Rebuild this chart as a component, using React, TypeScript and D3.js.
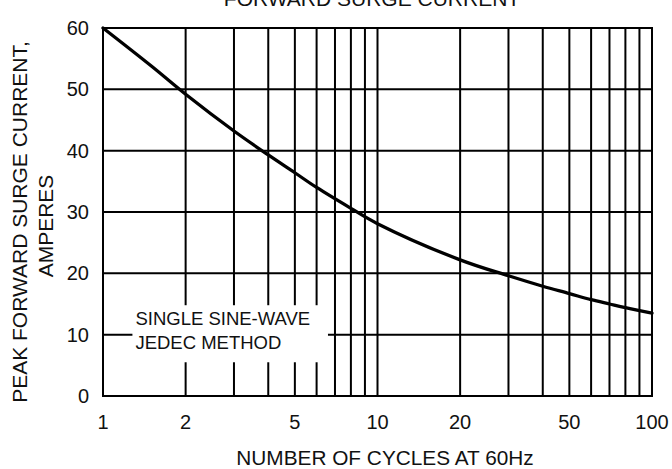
import React from 'react';
import * as d3 from 'd3';

// curve
const cycles = [1, 1.5, 2, 3, 4, 5, 6, 8, 10, 20, 30, 40, 50, 60, 70, 80, 100];
const current = [60, 53.8, 49.2, 43.2, 39.3, 36.4, 34.0, 30.6, 28.1, 22.2, 19.6, 17.9, 16.7, 15.7, 15.0, 14.4, 13.5];

const xGrid = [2, 3, 4, 5, 6, 7, 8, 9, 10, 20, 30, 40, 50, 60, 70, 80, 90];
const yGrid = [10, 20, 30, 40, 50];
const xTickLabels = [1, 2, 5, 10, 20, 50, 100];
const yTickLabels = [0, 10, 20, 30, 40, 50, 60];
const noteLines = ['SINGLE SINE-WAVE', 'JEDEC METHOD'];

const W = 672;
const H = 469;
const FONT = '"Liberation Sans", Arial, Helvetica, sans-serif';

const App = () => {
  const x = d3.scaleLog().domain([1, 100]).range([103, 652]);
  const y = d3.scaleLinear().domain([0, 60]).range([396, 28]);

  const line = d3
    .line<number>()
    .x((d, i) => x(cycles[i]))
    .y(d => y(d))
    .curve(d3.curveCatmullRom.alpha(0.5));

  // white patch behind the note, it cuts the grid lines
  const boxX0 = x(1.28);
  const boxX1 = x(6.6);
  const boxY0 = y(14.8);
  const boxY1 = y(5.5);

  return (
    <svg
      width={W}
      height={H}
      style={{ position: 'absolute', left: 0, top: 0, background: '#fff' }}
      fontFamily={FONT}
    >
      {/* grid */}
      <g stroke="#000" strokeWidth={2}>
        {xGrid.map(v => (
          <line key={'vx' + v} x1={x(v)} x2={x(v)} y1={y(0)} y2={y(60)} />
        ))}
        {yGrid.map(v => (
          <line key={'hy' + v} x1={x(1)} x2={x(100)} y1={y(v)} y2={y(v)} />
        ))}
      </g>

      <rect x={boxX0} y={boxY0} width={boxX1 - boxX0} height={boxY1 - boxY0} fill="#fff" />

      {/* frame */}
      <rect
        x={x(1)}
        y={y(60)}
        width={x(100) - x(1)}
        height={y(0) - y(60)}
        fill="none"
        stroke="#000"
        strokeWidth={2}
      />

      <path d={line(current) || ''} fill="none" stroke="#000" strokeWidth={3.3} strokeLinecap="round" />

      {/* note */}
      {noteLines.map((t, i) => (
        <text key={t} x={boxX0 + 3} y={boxY0 + 20 + i * 24} fontSize={18.5} fill="#111">
          {t}
        </text>
      ))}

      {/* y ticks */}
      {yTickLabels.map(v => (
        <text key={'yl' + v} x={89} y={y(v) + 7} textAnchor="end" fontSize={20} fill="#111">
          {v}
        </text>
      ))}

      {/* x ticks */}
      {xTickLabels.map(v => (
        <text key={'xl' + v} x={x(v)} y={429} textAnchor="middle" fontSize={20} fill="#111">
          {v}
        </text>
      ))}

      <text x={385} y={465} textAnchor="middle" fontSize={20.8} fill="#111">
        NUMBER OF CYCLES AT 60Hz
      </text>

      {/* title sits half off the top edge, as in the source */}
      <text x={372} y={6} textAnchor="middle" fontSize={21} fill="#111">
        FORWARD SURGE CURRENT
      </text>

      <text transform="translate(27,222) rotate(-90)" textAnchor="middle" fontSize={21} fill="#111">
        PEAK FORWARD SURGE CURRENT,
      </text>
      <text transform="translate(53,226) rotate(-90)" textAnchor="middle" fontSize={21} fill="#111">
        AMPERES
      </text>
    </svg>
  );
};

export default App;
